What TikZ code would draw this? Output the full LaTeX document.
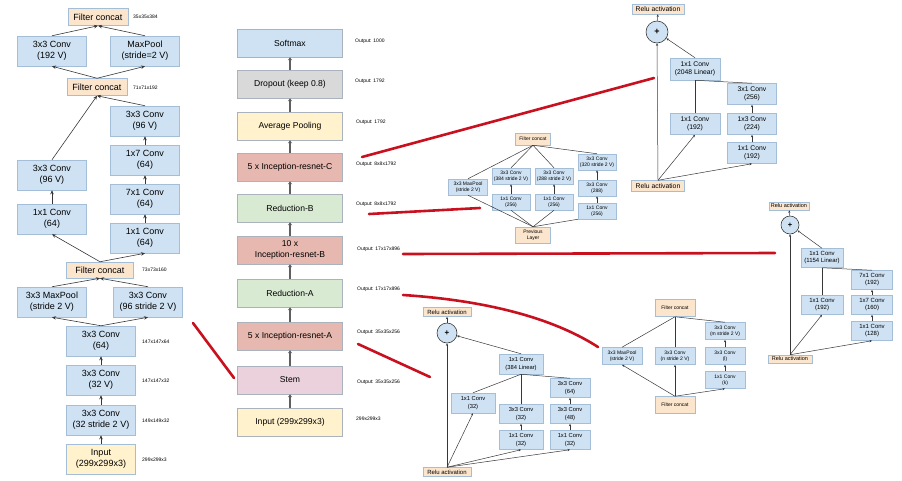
\documentclass[tikz,border=0pt]{standalone}
\usepackage{fontspec}
\setmainfont{Liberation Sans}
\usetikzlibrary{arrows.meta}
\definecolor{convblue}{RGB}{207,226,243}
\definecolor{concatorange}{RGB}{252,229,205}
\definecolor{inputyellow}{RGB}{255,242,204}
\definecolor{dropgray}{RGB}{217,217,217}
\definecolor{incred}{RGB}{230,184,175}
\definecolor{redgreen}{RGB}{217,234,211}
\definecolor{stempink}{RGB}{234,209,220}
\definecolor{boxline}{RGB}{165,190,215}
\definecolor{stageline}{RGB}{170,178,190}
\definecolor{linegray}{RGB}{55,55,55}
\definecolor{flowgray}{RGB}{95,95,95}
\definecolor{zoomred}{RGB}{200,16,30}

\begin{document}
\begin{tikzpicture}[x=1pt, y=-1pt]
    \tikzstyle{blk} = [draw=boxline, line width=0.5pt, align=center, inner sep=0pt]
    \tikzstyle{conv} = [blk, fill=convblue]
    \tikzstyle{concat} = [blk, fill=concatorange]
    \tikzstyle{stembox} = [minimum width=69pt, minimum height=30pt, font=\fontsize{9}{11}\selectfont]
    \tikzstyle{stagebox} = [blk, draw=stageline, minimum width=105pt, minimum height=28pt, font=\fontsize{8.6}{10.5}\selectfont]
    \tikzstyle{incCbox} = [minimum width=50pt, minimum height=21pt, font=\fontsize{6.8}{8}\selectfont]
    \tikzstyle{incBbox} = [minimum width=42pt, minimum height=19pt, font=\fontsize{6}{7}\selectfont]
    \tikzstyle{incAbox} = [minimum width=44pt, minimum height=20pt, font=\fontsize{5.8}{7.5}\selectfont]
    \tikzstyle{redAbox} = [minimum width=40pt, minimum height=17pt, font=\fontsize{5}{6.2}\selectfont]
    \tikzstyle{redBbox} = [minimum width=38pt, minimum height=16pt, font=\fontsize{5}{6.2}\selectfont]
    \tikzstyle{addop} = [circle, draw=linegray, fill=convblue, line width=0.6pt, inner sep=0pt]
    \tikzstyle{arr} = [draw=linegray, line width=0.6pt, -{Stealth[length=4pt, width=3.5pt]}]
    \tikzstyle{tinyarr} = [draw=linegray, line width=0.5pt, -{Stealth[length=2.5pt, width=2.2pt]}]
    \tikzstyle{link} = [draw=linegray, line width=0.5pt]
    \tikzstyle{flow} = [draw=flowgray, line width=1.8pt, -{Stealth[length=3pt, width=4pt]}]
    \tikzstyle{zoomline} = [draw=zoomred, line width=2.6pt, line cap=round]
    \tikzstyle{dimlabel} = [anchor=west, inner sep=0pt, font=\fontsize{5}{6}\selectfont]

    \useasboundingbox (0,0) rectangle (902,480);

    % stem, left
    \node[concat, stembox, minimum width=60pt, minimum height=17pt] (fc3) at (98,17) {Filter concat};
    \node[conv, stembox] (c192) at (52,51) {3x3 Conv\\(192 V)};
    \node[conv, stembox] (mp2) at (145,51) {MaxPool\\(stride=2 V)};
    \node[concat, stembox, minimum width=60pt, minimum height=17pt] (fc2) at (97,87) {Filter concat};
    \node[conv, stembox] (c96r) at (145,121) {3x3 Conv\\(96 V)};
    \node[conv, stembox] (c17) at (145,160) {1x7 Conv\\(64)};
    \node[conv, stembox] (c71) at (145,199) {7x1 Conv\\(64)};
    \node[conv, stembox] (c11r) at (145,238) {1x1 Conv\\(64)};
    \node[conv, stembox] (c96l) at (52,175) {3x3 Conv\\(96 V)};
    \node[conv, stembox] (c11l) at (52,219) {1x1 Conv\\(64)};
    \node[concat, stembox, minimum width=67pt, minimum height=16pt] (fc1) at (100,270) {Filter concat};
    \node[conv, stembox] (mp1) at (52,302) {3x3 MaxPool\\(stride 2 V)};
    \node[conv, stembox] (c96s) at (148,302) {3x3 Conv\\(96 stride 2 V)};
    \node[conv, stembox] (c64) at (101,341) {3x3 Conv\\(64)};
    \node[conv, stembox] (c32v) at (101,380) {3x3 Conv\\(32 V)};
    \node[conv, stembox] (c32s) at (101,420) {3x3 Conv\\(32 stride 2 V)};
    \node[conv, stembox, fill=inputyellow] (sin) at (101,459) {Input\\(299x299x3)};

    \node[dimlabel] (d3) at (133,17) {35x35x384};
    \node[dimlabel] (d2) at (133,88) {71x71x192};
    \node[dimlabel] (d1) at (142,270) {73x73x160};
    \node[dimlabel] (d64) at (142,342) {147x147x64};
    \node[dimlabel] (d32v) at (142,381) {147x147x32};
    \node[dimlabel] (d32s) at (142,421) {149x149x32};
    \node[dimlabel] (din) at (142,460) {299x299x3};

    \draw[arr] (c192.north) -- (fc3.south);
    \draw[arr] (mp2.north) -- (fc3.south);
    \draw[arr] (fc2.north) -- (c192.south);
    \draw[arr] (fc2.north) -- (mp2.south);
    \draw[arr] (c96l.north) -- (fc2.south);
    \draw[arr] (c96r.north) -- (fc2.south);
    \draw[arr] (c17) -- (c96r);
    \draw[arr] (c71) -- (c17);
    \draw[arr] (c11r) -- (c71);
    \draw[arr] (c11l) -- (c96l);
    \draw[arr] (fc1.north) -- (c11l.south);
    \draw[arr] (fc1.north) -- (c11r.south);
    \draw[arr] (mp1.north) -- (fc1.south);
    \draw[arr] (c96s.north) -- (fc1.south);
    \draw[arr] (c64.north) -- (mp1.south);
    \draw[arr] (c64.north) -- (c96s.south);
    \draw[arr] (c32v) -- (c64);
    \draw[arr] (c32s) -- (c32v);
    \draw[arr] (sin) -- (c32s);

    % main column
    \node[stagebox, fill=convblue] (softmax) at (290,43) {Softmax};
    \node[stagebox, fill=dropgray] (dropout) at (290,84) {Dropout (keep 0.8)};
    \node[stagebox, fill=inputyellow] (avgpool) at (290,126) {Average Pooling};
    \node[stagebox, fill=incred] (incC) at (290,167) {5 x Inception-resnet-C};
    \node[stagebox, fill=redgreen] (redB) at (290,208) {Reduction-B};
    \node[stagebox, fill=incred] (incB) at (290,250) {10 x\\Inception-resnet-B};
    \node[stagebox, fill=redgreen] (redA) at (290,293) {Reduction-A};
    \node[stagebox, fill=incred] (incA) at (290,336) {5 x Inception-resnet-A};
    \node[stagebox, fill=stempink] (stem) at (290,380) {Stem};
    \node[stagebox, fill=inputyellow] (input) at (290,422) {Input (299x299x3)};

    \foreach \a/\b in {input/stem, stem/incA, incA/redA, redA/incB, incB/redB, redB/incC, incC/avgpool, avgpool/dropout, dropout/softmax}
        \draw[flow] (\a) -- (\b);

    \node[dimlabel] (osoftmax) at (355,41) {Output: 1000};
    \node[dimlabel] (odropout) at (355,81) {Output: 1792};
    \node[dimlabel] (oavgpool) at (356,122) {Output: 1792};
    \node[dimlabel] (oincC) at (356,164) {Output: 8x8x1792};
    \node[dimlabel] (oredB) at (356,204) {Output: 8x8x1792};
    \node[dimlabel] (oincB) at (357,249) {Output: 17x17x896};
    \node[dimlabel] (oredA) at (357,289) {Output: 17x17x896};
    \node[dimlabel] (oincA) at (357,332) {Output: 35x35x256};
    \node[dimlabel] (ostem) at (357,382) {Output: 35x35x256};
    \node[dimlabel] (oinput) at (356,419) {299x299x3};

    % red pointers
    \coordinate (pstemA) at (193,323);
    \coordinate (pstemB) at (234,378);
    \coordinate (pincAA) at (358,344);
    \coordinate (pincAB) at (430,377);
    \coordinate (predAA) at (403,295);
    \coordinate (predAB) at (598,347);
    \coordinate (pincBA) at (403,254);
    \coordinate (pincBB) at (775,253);
    \coordinate (predBA) at (369,214);
    \coordinate (predBB) at (480,208);
    \coordinate (pincCA) at (362,157);
    \coordinate (pincCB) at (654,78);
    \draw[zoomline] (pstemA) -- (pstemB);
    \draw[zoomline] (pincAA) -- (pincAB);
    \draw[zoomline] (predAA) .. controls (480,300) and (550,316) .. (predAB);
    \draw[zoomline] (pincBA) -- (pincBB);
    \draw[zoomline] (predBA) -- (predBB);
    \draw[zoomline] (pincCA) -- (pincCB);

    % reduction-B
    \node[concat, redBbox, minimum width=35pt, minimum height=12pt] (rbfc) at (533,139) {Filter concat};
    \node[conv, redBbox, minimum width=39pt] (rbmp) at (468,187) {3x3 MaxPool\\(stride 2 V)};
    \node[conv, redBbox] (rbc384) at (511,176) {3x3 Conv\\(384 stride 2 V)};
    \node[conv, redBbox] (rba11) at (511,202) {1x1 Conv\\(256)};
    \node[conv, redBbox] (rbc288) at (554,176) {3x3 Conv\\(288 stride 2 V)};
    \node[conv, redBbox] (rbb11) at (554,202) {1x1 Conv\\(256)};
    \node[conv, redBbox] (rbc320) at (597,162) {3x3 Conv\\(320 stride 2 V)};
    \node[conv, redBbox] (rbc288b) at (597,188) {3x3 Conv\\(288)};
    \node[conv, redBbox] (rbc11) at (597,211) {1x1 Conv\\(256)};
    \node[concat, redBbox, minimum width=35pt] (rbprev) at (533,235) {Previous\\Layer};

    \draw[link] (rbfc.south) -- (rbmp.north);
    \draw[link] (rbfc.south) -- (rbc384.north);
    \draw[link] (rbfc.south) -- (rbc288.north);
    \draw[link] (rbfc.south) -- (rbc320.north);
    \draw[link] (rbprev.north) -- (rbmp.south);
    \draw[link] (rbprev.north) -- (rba11.south);
    \draw[link] (rbprev.north) -- (rbb11.south);
    \draw[link] (rbprev.north) -- (rbc11.south west);
    \draw[tinyarr] (rba11) -- (rbc384);
    \draw[tinyarr] (rbb11) -- (rbc288);
    \draw[tinyarr] (rbc11) -- (rbc288b);
    \draw[tinyarr] (rbc288b) -- (rbc320);

    % inception-resnet-C
    \node[concat, minimum width=52pt, minimum height=10pt, font=\fontsize{6.8}{8}\selectfont] (icrt) at (658,9) {Relu activation};
    \node[addop, minimum size=22pt, font=\fontsize{9}{9}\selectfont\bfseries] (icplus) at (657,32) {+};
    \node[conv, incCbox, minimum height=22pt] (ic2048) at (695,69) {1x1 Conv\\(2048 Linear)};
    \node[conv, incCbox, minimum width=49pt] (ic31) at (752,94) {3x1 Conv\\(256)};
    \node[conv, incCbox] (ic11a) at (695,124) {1x1 Conv\\(192)};
    \node[conv, incCbox, minimum width=49pt] (ic13) at (752,124) {1x3 Conv\\(224)};
    \node[conv, incCbox, minimum width=49pt] (ic11b) at (752,153) {1x1 Conv\\(192)};
    \node[concat, minimum width=53pt, minimum height=11pt, font=\fontsize{6.8}{8}\selectfont] (icrb) at (658,186) {Relu activation};

    \draw[tinyarr] (icrb.north) -- (icplus.south);
    \draw[tinyarr] (icrb.north) -- (ic11a.south);
    \draw[tinyarr] (icrb.north) -- (ic11b.south);
    \draw[link] (ic11a.north) -- (ic2048.south);
    \draw[link] (ic31.north) -- (ic2048.south);
    \draw[tinyarr] (ic13) -- (ic31);
    \draw[tinyarr] (ic11b) -- (ic13);
    \draw[tinyarr] (ic2048.north) -- (icplus);
    \draw[tinyarr] (icplus) -- (icrt);

    % inception-resnet-B
    \node[concat, minimum width=40pt, minimum height=8pt, font=\fontsize{5.5}{6}\selectfont] (ibrt) at (789,206) {Relu activation};
    \node[addop, minimum size=18pt, font=\fontsize{7.5}{7.5}\selectfont\bfseries] (ibplus) at (790,225) {+};
    \node[conv, incBbox] (ib1154) at (822,258) {1x1 Conv\\(1154 Linear)};
    \node[conv, incBbox, minimum width=41pt] (ib71) at (872,280) {7x1 Conv\\(192)};
    \node[conv, incBbox] (ib11a) at (822,305) {1x1 Conv\\(192)};
    \node[conv, incBbox, minimum width=41pt] (ib17) at (872,305) {1x7 Conv\\(160)};
    \node[conv, incBbox, minimum width=41pt] (ib11b) at (872,331) {1x1 Conv\\(128)};
    \node[concat, minimum width=44pt, minimum height=8pt, font=\fontsize{5.5}{6}\selectfont] (ibrb) at (790,359) {Relu activation};

    \draw[tinyarr] (ibrb.north) -- (ibplus.south);
    \draw[tinyarr] (ibrb.north) -- (ib11a.south);
    \draw[tinyarr] (ibrb.north) -- (ib11b.south);
    \draw[link] (ib11a.north) -- (ib1154.south);
    \draw[link] (ib71.north) -- (ib1154.south);
    \draw[tinyarr] (ib17) -- (ib71);
    \draw[tinyarr] (ib11b) -- (ib17);
    \draw[tinyarr] (ib1154.north) -- (ibplus);
    \draw[tinyarr] (ibplus) -- (ibrt);

    % reduction-A
    \node[concat, redAbox] (rafct) at (675,308) {Filter concat};
    \node[conv, redAbox] (ramp) at (622,356) {3x3 MaxPool\\(stride 2 V)};
    \node[conv, redAbox] (ran) at (675,356) {3x3 Conv\\(n stride 2 V)};
    \node[conv, redAbox] (ram) at (725,331) {3x3 Conv\\(m stride 2 V)};
    \node[conv, redAbox] (ral) at (725,356) {3x3 Conv\\(l)};
    \node[conv, redAbox] (rak) at (725,380) {1x1 Conv\\(k)};
    \node[concat, redAbox] (rafcb) at (675,405) {Filter concat};

    \draw[link] (ramp.north) -- (rafct.south);
    \draw[link] (ran.north) -- (rafct.south);
    \draw[link] (ram.north) -- (rafct.south);
    \draw[tinyarr] (rafcb.north) -- (ramp.south);
    \draw[tinyarr] (rafcb.north) -- (ran.south);
    \draw[tinyarr] (rafcb.north) -- (rak.south);
    \draw[tinyarr] (rak) -- (ral);
    \draw[tinyarr] (ral) -- (ram);

    % inception-resnet-A
    \node[concat, minimum width=48pt, minimum height=9pt, font=\fontsize{6}{7}\selectfont] (iart) at (447,312) {Relu activation};
    \node[addop, minimum size=20pt, font=\fontsize{8}{8}\selectfont\bfseries] (iaplus) at (447,333) {+};
    \node[conv, incAbox] (ia384) at (521,364) {1x1 Conv\\(384 Linear)};
    \node[conv, incAbox, minimum width=40pt, minimum height=19pt] (ia64) at (570,388) {3x3 Conv\\(64)};
    \node[conv, incAbox] (ia11a) at (473,403) {1x1 Conv\\(32)};
    \node[conv, incAbox, minimum height=19pt] (ia33) at (521,414) {3x3 Conv\\(32)};
    \node[conv, incAbox, minimum width=40pt, minimum height=19pt] (ia48) at (570,414) {3x3 Conv\\(48)};
    \node[conv, incAbox, minimum height=19pt] (ia11b) at (521,440) {1x1 Conv\\(32)};
    \node[conv, incAbox, minimum width=40pt, minimum height=19pt] (ia11c) at (570,440) {1x1 Conv\\(32)};
    \node[concat, minimum width=48pt, minimum height=9pt, font=\fontsize{6}{7}\selectfont] (iarb) at (447,472) {Relu activation};

    \draw[tinyarr] (iarb.north) -- (iaplus.south);
    \draw[tinyarr] (iarb.north) -- (ia11a.south);
    \draw[tinyarr] (iarb.north) -- (ia11b.south);
    \draw[tinyarr] (iarb.north) -- (ia11c.south);
    \draw[link] (ia11a.north) -- (ia384.south);
    \draw[link] (ia33.north) -- (ia384.south);
    \draw[link] (ia64.north) -- (ia384.south);
    \draw[tinyarr] (ia11b) -- (ia33);
    \draw[tinyarr] (ia11c) -- (ia48);
    \draw[tinyarr] (ia48) -- (ia64);
    \draw[tinyarr] (ia384.north) -- (iaplus);
    \draw[tinyarr] (iaplus) -- (iart);
\end{tikzpicture}
\end{document}
